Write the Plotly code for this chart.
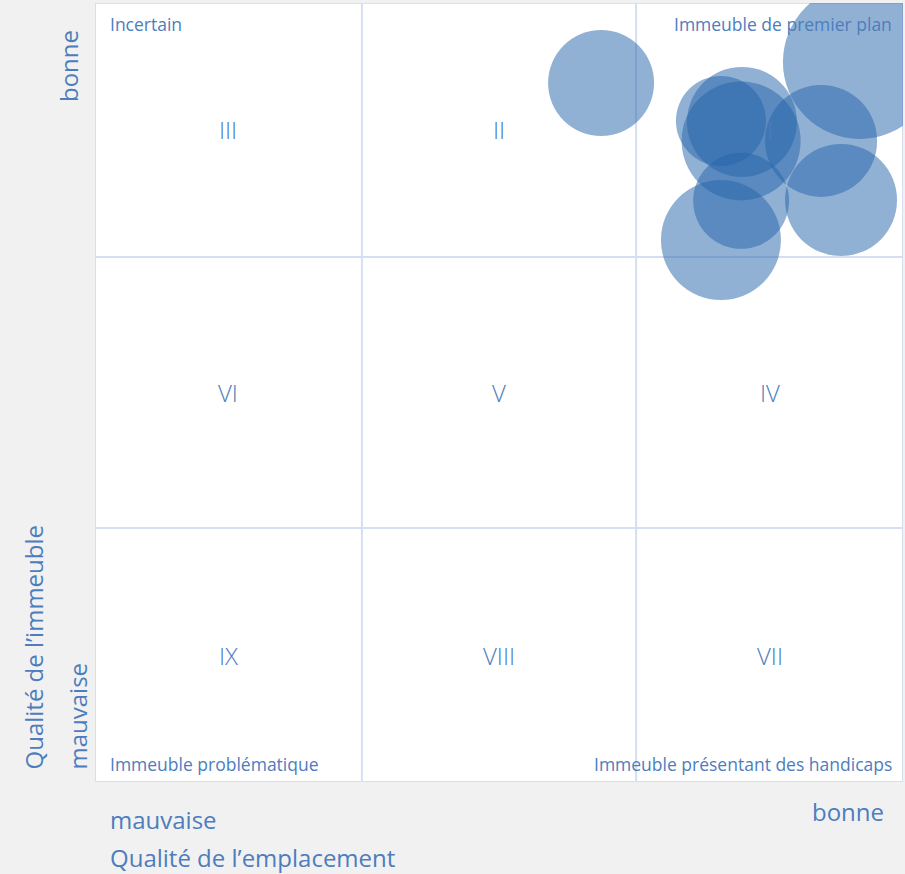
import plotly.graph_objects as go

# --- data ---
loc_quality = [1.879, 2.840, 2.402, 2.324, 2.399, 2.696, 2.399, 2.324, 2.770]
bld_quality = [2.692, 2.773, 2.542, 2.546, 2.469, 2.469, 2.238, 2.087, 2.241]
bubble_size = [106, 154, 110, 90, 119, 112, 96, 120, 112]

x_bounds = [0, 0.991, 2.009, 3]
y_bounds = [0, 0.978, 2.022, 3]
cell_labels = [["IX", "VIII", "VII"], ["VI", "V", "IV"], ["III", "II", "I"]]
corner_labels = {
    "tl": "Incertain",
    "tr": "Immeuble de premier plan",
    "bl": "Immeuble problématique",
    "br": "Immeuble présentant des handicaps",
}

TXT = "#4d7dbd"
GRID = "#d5dff1"
FONT = "Open Sans"

fig = go.Figure()
fig.add_trace(go.Scatter(
    x=loc_quality, y=bld_quality, mode="markers",
    marker=dict(size=bubble_size, sizemode="diameter", sizeref=1,
                color="rgb(35,99,169)", opacity=0.5, line=dict(width=0)),
    cliponaxis=True, hoverinfo="skip", showlegend=False,
))

shapes = []
for xv in x_bounds[1:-1]:
    shapes.append(dict(type="line", xref="x", yref="y", x0=xv, x1=xv, y0=0, y1=3,
                       line=dict(color=GRID, width=2), layer="below"))
for yv in y_bounds[1:-1]:
    shapes.append(dict(type="line", xref="x", yref="y", x0=0, x1=3, y0=yv, y1=yv,
                       line=dict(color=GRID, width=2), layer="below"))
shapes.append(dict(type="rect", xref="x", yref="y", x0=0, x1=3, y0=0, y1=3,
                   line=dict(color=GRID, width=2), layer="below"))

ann = []
for r in range(3):
    for c in range(3):
        ann.append(dict(x=(x_bounds[c] + x_bounds[c + 1]) / 2,
                        y=(y_bounds[r] + y_bounds[r + 1]) / 2,
                        xref="x", yref="y", text=cell_labels[r][c], showarrow=False,
                        font=dict(family=FONT, size=24, color=TXT, weight=300)))

cf = dict(family=FONT, size=17.5, color=TXT)
ann += [
    dict(x=0, y=1, xref="paper", yref="paper", xshift=13, yshift=-7, text=corner_labels["tl"],
         xanchor="left", yanchor="top", showarrow=False, font=cf),
    dict(x=1, y=1, xref="paper", yref="paper", xshift=-9, yshift=-7, text=corner_labels["tr"],
         xanchor="right", yanchor="top", showarrow=False, font=cf),
    dict(x=0, y=0, xref="paper", yref="paper", xshift=13, yshift=4, text=corner_labels["bl"],
         xanchor="left", yanchor="bottom", showarrow=False, font=cf),
    dict(x=1, y=0, xref="paper", yref="paper", xshift=-9, yshift=4, text=corner_labels["br"],
         xanchor="right", yanchor="bottom", showarrow=False, font=cf),
]

af = dict(family=FONT, size=24, color=TXT)
ann += [
    dict(x=0, y=1, xref="paper", yref="paper", xshift=-27, yshift=-25, text="bonne",
         textangle=-90, xanchor="center", yanchor="top", showarrow=False, font=af),
    dict(x=0, y=0, xref="paper", yref="paper", xshift=-18, yshift=10, text="mauvaise",
         textangle=-90, xanchor="center", yanchor="bottom", showarrow=False, font=af),
    dict(x=0, y=0, xref="paper", yref="paper", xshift=-62, yshift=10, text="Qualité de l’immeuble",
         textangle=-90, xanchor="center", yanchor="bottom", showarrow=False, font=af),
    dict(x=0, y=0, xref="paper", yref="paper", xshift=13, yshift=-37, text="mauvaise",
         xanchor="left", yanchor="middle", showarrow=False, font=af),
    dict(x=1, y=0, xref="paper", yref="paper", xshift=-17, yshift=-29, text="bonne",
         xanchor="right", yanchor="middle", showarrow=False, font=af),
    dict(x=0, y=0, xref="paper", yref="paper", xshift=13, yshift=-75, text="Qualité de l’emplacement",
         xanchor="left", yanchor="middle", showarrow=False, font=af),
]

fig.update_layout(
    width=905, height=874,
    margin=dict(l=95, r=2, t=3, b=92),
    paper_bgcolor="#f1f1f1", plot_bgcolor="white",
    xaxis=dict(range=[0, 3], showgrid=False, zeroline=False, showticklabels=False, fixedrange=True),
    yaxis=dict(range=[0, 3], showgrid=False, zeroline=False, showticklabels=False, fixedrange=True),
    shapes=shapes, annotations=ann, showlegend=False,
)

fig.write_html("out.html")
